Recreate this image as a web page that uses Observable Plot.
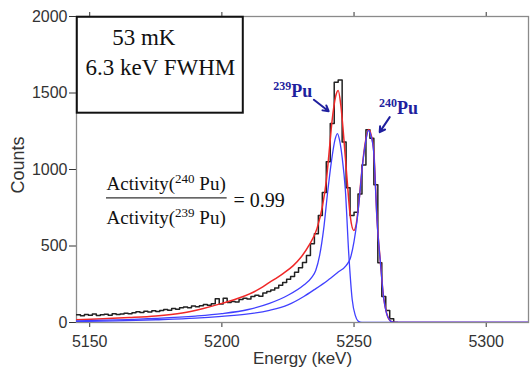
<!DOCTYPE html>
<html><head><meta charset="utf-8">
<script src="https://cdn.jsdelivr.net/npm/d3@7"></script>
<script src="https://cdn.jsdelivr.net/npm/@observablehq/plot@0.6"></script>
<style>body{margin:0;background:#fff}#chart{width:530px;height:369px}</style>
</head><body><div id="chart"></div>
<script>
// Measured histogram (bin left edges, keV) and counts
const binStart = [5145,5146.5,5148,5149.5,5151,5152.5,5154,5155.5,5157,5158.5,5160,5161.5,5163,5164.5,5166,5167.5,5169,5170.5,5172,5173.5,5175,5176.5,5178,5179.5,5181,5182.5,5184,5185.5,5187,5188.5,5190,5191.5,5193,5194.5,5196,5197.5,5199,5200.5,5202,5203.5,5205,5206.5,5208,5209.5,5211,5212.5,5214,5215.5,5217,5218.5,5220,5221.5,5223,5224.5,5226,5227.5,5229,5230.5,5232,5233.5,5235,5236.5,5238,5239.5,5241,5242.5,5244,5245.5,5247,5248.5,5250,5251.5,5253,5254.5,5256,5257.5,5259,5260.5,5262,5263.5,5265,5266.5];
const binCounts = [50,44,52,47,55,46,51,54,47,58,52,56,61,57,63,70,66,73,68,76,72,79,85,80,92,87,96,102,97,108,103,110,118,112,122,156,121,158,130,138,134,150,158,153,170,178,172,192,203,212,225,243,262,283,300,328,358,392,438,515,580,700,850,1050,1300,1570,1585,1180,880,700,720,840,1030,1259,1205,900,390,170,78,25,0,0];

// Total fit (red)
const totalE   = [5145,5155,5165,5175,5185,5193,5200,5207,5213,5218,5223,5227,5230,5233,5236,5238,5239.5,5240.5,5241.7,5243,5244,5245,5246.1,5247.4,5248.6,5249.9,5250.8,5251.8,5253,5254.2,5255.5,5256.5,5257.5,5258.7,5260,5261.2,5262.3,5263.5,5265,5266.5,5316];
const totalFit = [18,25,32,42,62,92,125,163,208,262,318,372,428,505,615,755,925,1100,1320,1475,1516,1420,1211,928,690,602,640,780,1000,1170,1262,1225,1110,672,390,162,62,15,2,0,0];

// 239Pu component (blue)
const pu239E   = [5145,5160,5175,5190,5200,5210,5218,5225,5231,5234,5235.5,5237,5238.5,5240,5241.5,5242.8,5243.7,5244.6,5245.5,5246.7,5248,5249.3,5250.5,5251.5,5253,5316];
const pu239Fit = [10,17,27,42,58,85,125,178,245,295,340,440,610,850,1060,1195,1235,1185,1080,870,450,150,45,10,0,0];

// 240Pu component (blue)
const pu240E   = [5145,5160,5175,5190,5200,5210,5218,5225,5231,5235,5240,5244,5247,5248.6,5250,5251.2,5252.2,5253,5254.2,5255.5,5256.5,5257.5,5258.7,5260,5261.2,5262.3,5263.5,5264.5,5265.5,5316];
const pu240Fit = [6,11,18,28,40,56,80,115,170,215,275,330,372,420,530,675,845,995,1160,1255,1215,1100,667,386,160,60,15,3,0,0];

const xTicks = [5150,5200,5250,5300];
const yTicks = [0,500,1000,1500,2000];

const hist = binStart.map((e,i)=>({e, c:binCounts[i]}));
const total = totalE.map((e,i)=>({e, v:totalFit[i]}));
const c239 = pu239E.map((e,i)=>({e, v:pu239Fit[i]}));
const c240 = pu240E.map((e,i)=>({e, v:pu240Fit[i]}));

const serif = "'Liberation Serif','Times New Roman',serif";
const navy = "#1f1f9e";
const blue = "#4040ff";

const plot = Plot.plot({
  width:530, height:369,
  marginLeft:76, marginRight:2, marginTop:16, marginBottom:47,
  style:{fontFamily:"'Liberation Sans',Arial,sans-serif", fontSize:"16px", background:"#fff", color:"#333"},
  x:{domain:[5145,5316]},
  y:{domain:[0,2000]},
  marks:[
    Plot.axisX({ticks:xTicks, tickSize:5, tickPadding:8, tickFormat:d=>String(d), label:null, fontSize:16}),
    Plot.axisX({anchor:"top", ticks:xTicks, tickSize:5, tickFormat:()=>"", label:null}),
    Plot.axisY({ticks:yTicks, tickSize:7, tickPadding:2, tickFormat:d=>String(d), label:null, fontSize:16}),
    Plot.frame({stroke:"#8a8a8a", strokeWidth:1.3}),
    Plot.line(hist, {x:"e", y:"c", curve:"step-after", stroke:"#222", strokeWidth:1.5, clip:true}),
    Plot.line(total, {x:"e", y:"v", curve:"monotone-x", stroke:"#f02828", strokeWidth:1.5, clip:true}),
    Plot.line(c239, {x:"e", y:"v", curve:"monotone-x", stroke:blue, strokeWidth:1.3, clip:true}),
    Plot.line(c240, {x:"e", y:"v", curve:"monotone-x", stroke:blue, strokeWidth:1.3, clip:true}),
    // annotation box
    Plot.rect([{x1:5145.3,x2:5208.1,y1:1368,y2:1995}], {x1:"x1",x2:"x2",y1:"y1",y2:"y2", fill:"none", stroke:"#111", strokeWidth:2}),
    Plot.text([{x:5158.5,y:1859,t:"53 mK"}], {x:"x",y:"y",text:"t",textAnchor:"start",fontFamily:serif,fontSize:23,fill:"#111"}),
    Plot.text([{x:5148.4,y:1663,t:"6.3 keV FWHM"}], {x:"x",y:"y",text:"t",textAnchor:"start",fontFamily:serif,fontSize:23,fill:"#111"}),
    // activity ratio
    Plot.text([{x:5156.35,y:903,t:"Activity(^240^ Pu)"}], {x:"x",y:"y",text:"t",textAnchor:"start",fontFamily:serif,fontSize:19,fill:"#111"}),
    Plot.ruleY([{y:815,x1:5156.35,x2:5202}], {y:"y",x1:"x1",x2:"x2",stroke:"#333",strokeWidth:1.2}),
    Plot.text([{x:5156.35,y:685,t:"Activity(^239^ Pu)"}], {x:"x",y:"y",text:"t",textAnchor:"start",fontFamily:serif,fontSize:19,fill:"#111"}),
    Plot.text([{x:5204.4,y:795,t:"= 0.99"}], {x:"x",y:"y",text:"t",textAnchor:"start",fontFamily:serif,fontSize:20,fill:"#111"}),
    // peak labels
    Plot.text([{x:5219.4,y:1510,t:"^239^Pu"}], {x:"x",y:"y",text:"t",textAnchor:"start",fontFamily:serif,fontSize:18,fontWeight:"bold",fill:navy}),
    Plot.text([{x:5259.4,y:1402,t:"^240^Pu"}], {x:"x",y:"y",text:"t",textAnchor:"start",fontFamily:serif,fontSize:18,fontWeight:"bold",fill:navy}),
    Plot.arrow([{x1:5234.8,y1:1455.6,x2:5240.4,y2:1381}], {x1:"x1",y1:"y1",x2:"x2",y2:"y2",stroke:navy,strokeWidth:2,headLength:7}),
    Plot.arrow([{x1:5263.5,y1:1342,x2:5259.7,y2:1244}], {x1:"x1",y1:"y1",x2:"x2",y2:"y2",stroke:navy,strokeWidth:2,headLength:7}),
    // axis titles
    Plot.text([{y:1030,t:"Counts"}], {y:"y", text:"t", frameAnchor:"left", textAnchor:"middle", lineAnchor:"middle", rotate:-90, dx:-58, fontSize:18, fill:"#333"}),
    Plot.text(["Energy (keV)"], {text:d=>d, frameAnchor:"bottom", lineAnchor:"bottom", dy:41, fontSize:17, fill:"#333"})
  ]
});
document.getElementById("chart").appendChild(plot);

// superscripts marked with ^...^
d3.select(plot).selectAll("text").each(function(){
  const s = this.textContent;
  if (!s.includes("^")) return;
  const [a,b,c] = s.split("^");
  const fs = parseFloat(getComputedStyle(this).fontSize) || 18;
  const sup = Math.round(fs*0.66), rise = Math.round(fs*0.38);
  this.textContent = "";
  const t = d3.select(this);
  if (a) t.append("tspan").text(a);
  t.append("tspan").attr("font-size", sup).attr("dy", -rise).text(b);
  t.append("tspan").attr("dy", rise).text(c);
});
</script>
</body></html>
